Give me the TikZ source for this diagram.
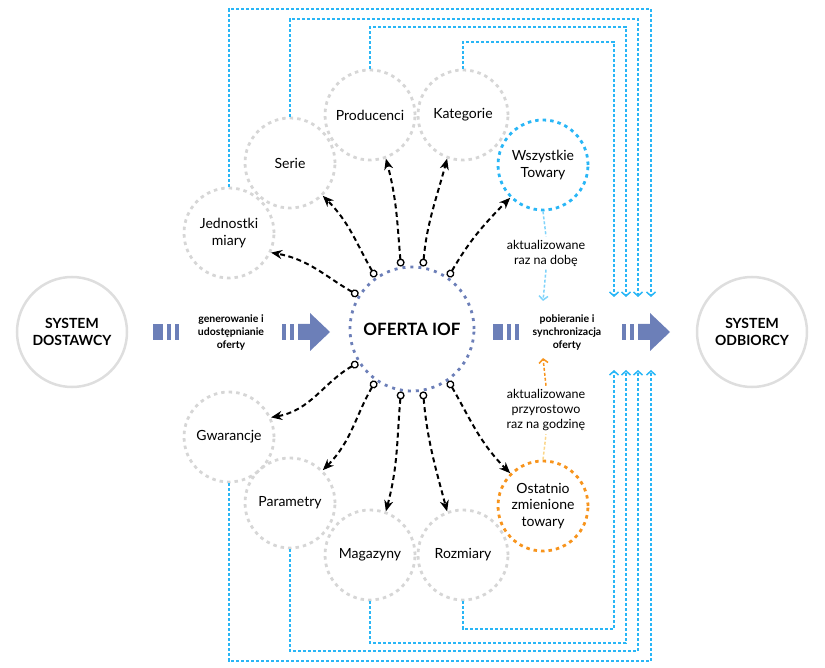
\documentclass[tikz,border=0pt]{standalone}
\usepackage{fontspec}
\setmainfont{Lato}
\usetikzlibrary{arrows.meta}
\definecolor{iofblue}{HTML}{6C7FB8}
\definecolor{skyline}{HTML}{29B6F6}
\definecolor{ringgray}{HTML}{D6D6D6}
\definecolor{ringorange}{HTML}{F7941D}
\definecolor{ringyellow}{HTML}{FBD68A}
\tikzset{
  ring/.style={circle,draw=ringgray,line width=2.8pt,dash pattern=on 3.5pt off 4pt,minimum size=90pt,inner sep=0pt,align=center,font=\fontsize{14}{16.5}\selectfont},
  sysring/.style={circle,draw=ringgray!80,line width=2.5pt,minimum size=110pt,align=center,font=\bfseries\fontsize{14}{16.5}\selectfont},
  feed/.style={draw=skyline,line width=1.5pt,dash pattern=on 3pt off 2pt},
  spoke/.style={line width=2pt,dash pattern=on 5pt off 3.5pt,{Circle[open,length=8pt,line width=1.3pt,sep=0pt]}-{Stealth[length=11pt,width=9pt]}},
  note/.style={align=center,font=\fontsize{12.5}{15}\selectfont},
  flow/.style={align=center,font=\bfseries\fontsize{10.5}{13}\selectfont},
  tip/.style={-{Straight Barb[length=4pt,width=9pt]}},
}
\begin{document}
\begin{tikzpicture}[x=1pt,y=-1pt]
  \useasboundingbox (0,0) rectangle (825,668);
  % systems and the offer
  \node[sysring] (dost) at (72,332) {SYSTEM\\DOSTAWCY};
  \node[sysring] (odb) at (752,332) {SYSTEM\\ODBIORCY};
  \node[circle,draw=iofblue,line width=2.8pt,dash pattern=on 3pt off 5pt,minimum size=124pt,font=\bfseries\fontsize{17}{19}\selectfont] (iof) at (412,329) {OFERTA IOF};

  % data rings
  \node[ring] (jed) at (229,233) {Jednostki\\miary};
  \node[ring] (serie) at (290,163) {Serie};
  \node[ring] (prod) at (370,115) {Producenci};
  \node[ring] (kat) at (463,115) {Kategorie};
  \node[ring,draw=skyline] (wsz) at (543,165) {Wszystkie\\Towary};
  \node[ring] (gwar) at (229,437) {Gwarancje};
  \node[ring] (par) at (290,503) {Parametry};
  \node[ring] (mag) at (370,555) {Magazyny};
  \node[ring] (rozm) at (463,555) {Rozmiary};
  \node[ring,draw=ringorange] (ost) at (543,506) {Ostatnio\\zmienione\\towary};

  % spokes
  \draw[spoke] (iof.148) to[out=150,in=-10] (jed.-25);
  \draw[spoke] (iof.125) to[out=120,in=-45] (serie.-45);
  \draw[spoke] (iof.100) to[out=95,in=-75] (prod.-70);
  \draw[spoke] (iof.80) to[out=85,in=-105] (kat.-110);
  \draw[spoke] (iof.55) to[out=60,in=-135] (wsz.-135);
  \draw[spoke] (iof.212) to[out=210,in=10] (gwar.25);
  \draw[spoke] (iof.235) to[out=240,in=45] (par.45);
  \draw[spoke] (iof.260) to[out=265,in=75] (mag.70);
  \draw[spoke] (iof.280) to[out=275,in=105] (rozm.110);
  \draw[spoke] (iof.305) to[out=300,in=135] (ost.135);

  % big flow arrows
  \foreach \x/\w in {153/10,167/4,175/4,493/10,507/4,515/4,282/4,290/4,622/4,630/4}
    \fill[iofblue] (\x,324) rectangle ++(\w,16);
  \fill[iofblue] (298,324) -- (310,324) -- (310,313) -- (330,332) -- (310,351) -- (310,340) -- (298,340) -- cycle;
  \fill[iofblue] (638,324) -- (650,324) -- (650,313) -- (670,332) -- (650,351) -- (650,340) -- (638,340) -- cycle;
  \node[flow] (gen) at (231,332) {generowanie i\\udostępnianie\\oferty};
  \node[flow] (pob) at (567,332) {pobieranie i\\synchronizacja\\oferty};

  % refresh notes
  \node[note] (doba) at (546,253) {aktualizowane\\raz na dobę};
  \node[note] (godz) at (546,410) {aktualizowane\\przyrostowo\\raz na godzinę};
  \coordinate (dobaEnd) at (543,301);
  \coordinate (godzEnd) at (543,358);
  \draw[feed,draw=skyline!60] (wsz.south) -- (doba.north);
  \draw[feed,draw=skyline!60,tip] (doba.south) -- (dobaEnd);
  \draw[feed,draw=ringyellow] (ost.north) -- (godz.south);
  \draw[feed,draw=ringorange,tip] (godz.north) -- (godzEnd);

  % feeds to the receiving system
  \coordinate (c1) at (651,9);   \coordinate (t1) at (651,297);
  \coordinate (c2) at (638,19);  \coordinate (t2) at (638,297);
  \coordinate (c3) at (626,27);  \coordinate (t3) at (626,297);
  \coordinate (c4) at (614,42);  \coordinate (t4) at (614,297);
  \coordinate (d1) at (651,661); \coordinate (b1) at (651,370);
  \coordinate (d2) at (638,651); \coordinate (b2) at (638,370);
  \coordinate (d3) at (626,643); \coordinate (b3) at (626,370);
  \coordinate (d4) at (614,629); \coordinate (b4) at (614,370);
  \draw[feed,tip] (jed.north) |- (c1) -- (t1);
  \draw[feed,tip] (serie.north) |- (c2) -- (t2);
  \draw[feed,tip] (prod.north) |- (c3) -- (t3);
  \draw[feed,tip] (kat.north) |- (c4) -- (t4);
  \draw[feed,tip] (gwar.south) |- (d1) -- (b1);
  \draw[feed,tip] (par.south) |- (d2) -- (b2);
  \draw[feed,tip] (mag.south) |- (d3) -- (b3);
  \draw[feed,tip] (rozm.south) |- (d4) -- (b4);
\end{tikzpicture}
\end{document}
